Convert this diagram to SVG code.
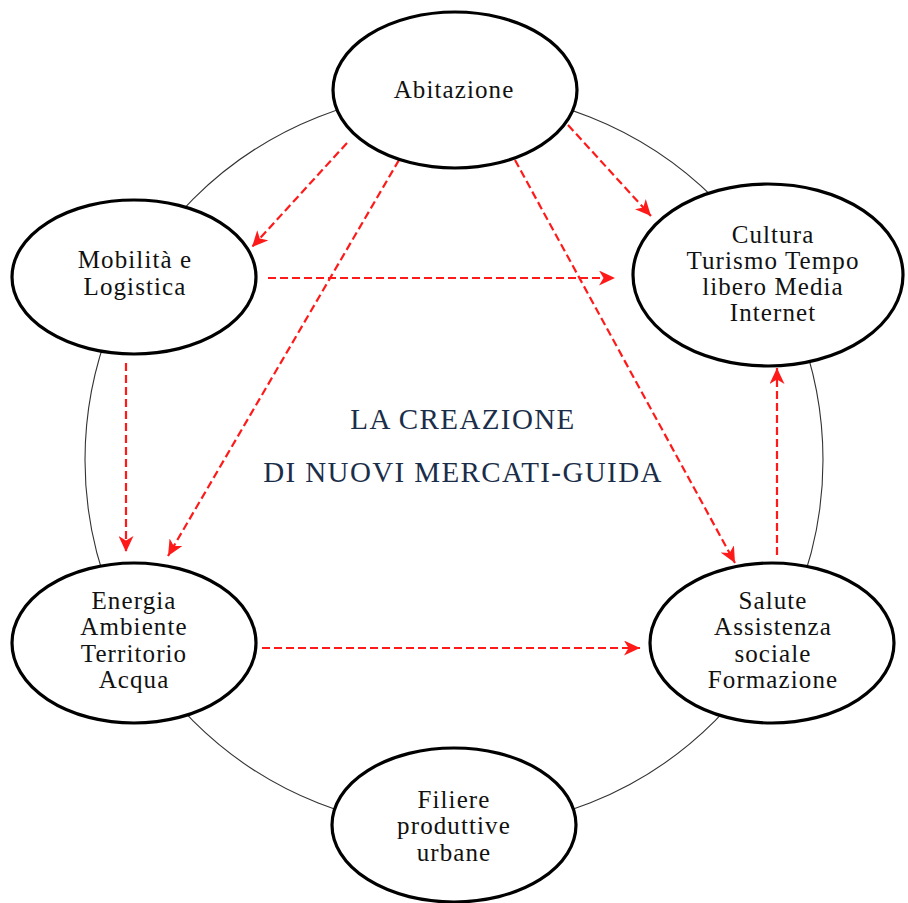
<svg xmlns="http://www.w3.org/2000/svg" width="908" height="903" viewBox="0 0 908 903">
<style>
.ring{fill:none;stroke:#333;stroke-width:1.1}
.node ellipse{fill:#fff;stroke:#000;stroke-width:3.2}
.node text{font-family:"Liberation Serif","Times New Roman",serif;font-size:25px;letter-spacing:1.1px;fill:#111;text-anchor:middle}
.title{font-family:"Liberation Serif","Times New Roman",serif;font-size:29px;letter-spacing:1.4px;fill:#1a2e4a;text-anchor:middle}
.conn line{stroke:#ff1a1a;stroke-width:2.2;stroke-dasharray:8 4;marker-end:url(#ah)}
</style>
<defs>
<marker id="ah" markerUnits="userSpaceOnUse" markerWidth="17" markerHeight="15" refX="16" refY="7.5" orient="auto">
<path d="M0,0 L16,7.5 L0,15 L4.5,7.5 z" fill="#ff1a1a"/>
</marker>
</defs>
<rect width="908" height="903" fill="#fff"/>
<circle class="ring" cx="454" cy="460" r="369"/>
<g id="connectors" class="conn">
<line x1="347" y1="143" x2="252" y2="247"/>
<line x1="399" y1="160" x2="168" y2="556"/>
<line x1="515" y1="160" x2="735" y2="563"/>
<line x1="568" y1="125" x2="651" y2="216"/>
<line x1="268" y1="278" x2="615" y2="278"/>
<line x1="126" y1="363" x2="126" y2="552"/>
<line x1="262" y1="648" x2="640" y2="648"/>
<line x1="777" y1="555" x2="777" y2="368"/>
</g>
<g id="abitazione" class="node">
<ellipse cx="455" cy="90" rx="122" ry="78"/>
<text x="454" y="98">Abitazione</text>
</g>
<g id="mobilita" class="node">
<ellipse cx="134" cy="277" rx="122" ry="77"/>
<text x="135" y="268">Mobilità e</text>
<text x="135" y="295">Logistica</text>
</g>
<g id="cultura" class="node">
<ellipse cx="768" cy="275" rx="135" ry="91"/>
<text x="773" y="243">Cultura</text>
<text x="773" y="269">Turismo Tempo</text>
<text x="773" y="295">libero Media</text>
<text x="773" y="321">Internet</text>
</g>
<g id="energia" class="node">
<ellipse cx="134" cy="643" rx="122" ry="80"/>
<text x="134" y="609">Energia</text>
<text x="134" y="635">Ambiente</text>
<text x="134" y="662">Territorio</text>
<text x="134" y="688">Acqua</text>
</g>
<g id="salute" class="node">
<ellipse cx="772" cy="643" rx="122" ry="80"/>
<text x="773" y="609">Salute</text>
<text x="773" y="635">Assistenza</text>
<text x="773" y="662">sociale</text>
<text x="773" y="688">Formazione</text>
</g>
<g id="filiere" class="node">
<ellipse cx="454" cy="825" rx="122" ry="77"/>
<text x="454" y="808">Filiere</text>
<text x="454" y="834">produttive</text>
<text x="454" y="861">urbane</text>
</g>
<g id="title">
<text class="title" x="463" y="429">LA CREAZIONE</text>
<text class="title" x="463" y="482">DI NUOVI MERCATI-GUIDA</text>
</g>
</svg>
